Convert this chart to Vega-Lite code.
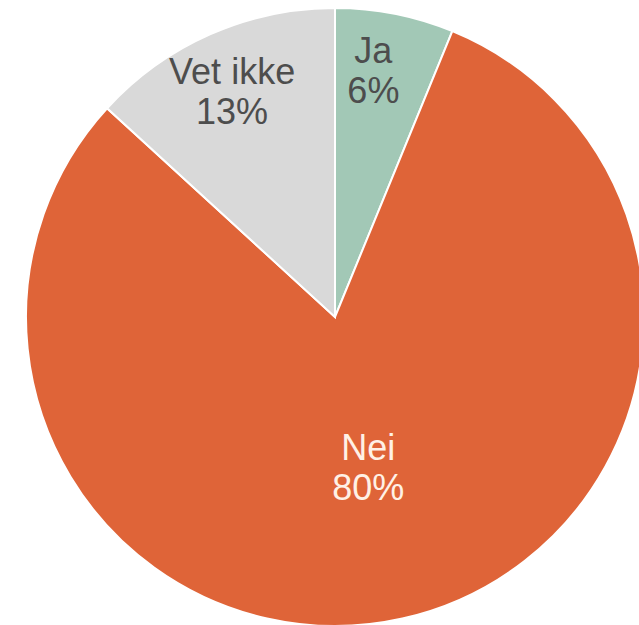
{
  "$schema": "https://vega.github.io/schema/vega-lite/v6.json",
  "autosize": "none",
  "width": 618,
  "height": 618,
  "padding": {"left": 26, "top": 8, "right": 0, "bottom": 0},
  "background": "white",
  "data": {
    "values": [
      {"category": "Ja", "value": 6.2, "label": "Ja\n6%"},
      {"category": "Nei", "value": 80.6, "label": "Nei\n80%"},
      {"category": "Vet ikke", "value": 13.2, "label": "Vet ikke\n13%"}
    ]
  },
  "encoding": {
    "theta": {"field": "value", "type": "quantitative", "stack": true},
    "order": {"field": "category", "sort": "ascending"}
  },
  "layer": [
    {
      "mark": {"type": "arc", "stroke": "white", "strokeWidth": 2},
      "encoding": {
        "color": {
          "field": "category",
          "type": "nominal",
          "scale": {"domain": ["Ja", "Nei", "Vet ikke"], "range": ["#A2C8B6", "#DF6438", "#D9D9D9"]},
          "legend": null
        }
      }
    },
    {
      "mark": {"type": "text", "radius": 250, "dx": -10, "dy": -20, "font": "Liberation Sans", "fontSize": 36, "lineHeight": 40, "lineBreak": "\n", "align": "center", "baseline": "middle", "fill": "#4D4D4D"},
      "encoding": {"text": {"condition": {"test": "datum.category === 'Ja'", "field": "label"}, "value": ""}}
    },
    {
      "mark": {"type": "text", "radius": 238, "dx": -7, "dy": -26, "font": "Liberation Sans", "fontSize": 36, "lineHeight": 40, "lineBreak": "\n", "align": "center", "baseline": "middle", "fill": "#4D4D4D"},
      "encoding": {"text": {"condition": {"test": "datum.category === 'Vet ikke'", "field": "label"}, "value": ""}}
    },
    {
      "mark": {"type": "text", "radius": 166, "dx": -3, "dy": -30, "font": "Liberation Sans", "fontSize": 36, "lineHeight": 40, "lineBreak": "\n", "align": "center", "baseline": "middle", "fill": "#FFF1E6"},
      "encoding": {"text": {"condition": {"test": "datum.category === 'Nei'", "field": "label"}, "value": ""}}
    }
  ],
  "view": {"stroke": null}
}
